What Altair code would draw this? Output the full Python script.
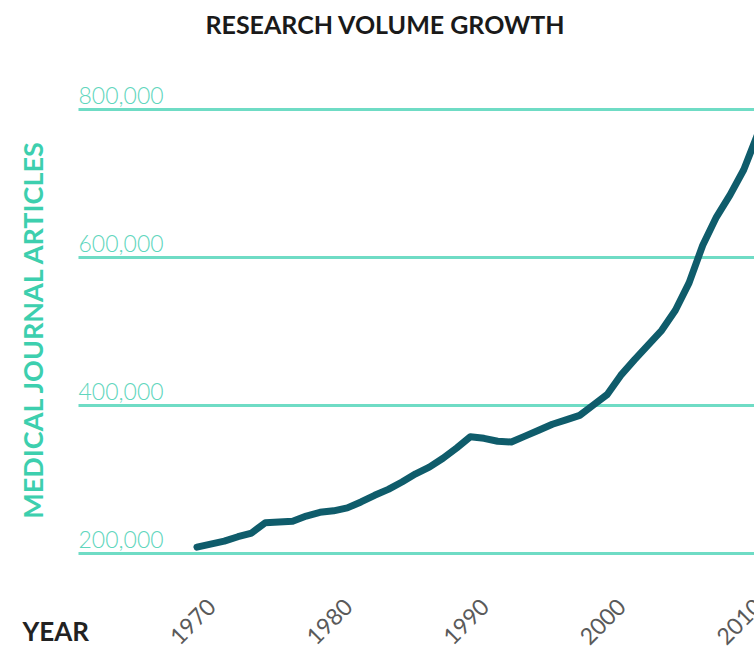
import altair as alt
import pandas as pd

years = list(range(1970, 2012))
articles = [208000, 212000, 216000, 222000, 227000, 241000, 242000, 243000, 250000, 255000,
            257000, 261000, 269000, 278000, 286000, 296000, 307000, 316000, 328000, 342000,
            357000, 355000, 351000, 350000, 358000, 366000, 374000, 380000, 386000, 400000,
            414000, 440000, 461000, 481000, 501000, 528000, 565000, 616000, 654000, 684000,
            718000, 765000]
y_ticks = [200000, 400000, 600000, 800000]
x_ticks = [1970, 1980, 1990, 2000, 2010]

df = pd.DataFrame({"year": years, "articles": articles})

FONT = "Lato"

line = alt.Chart(df).mark_line(
    color="#0f5c6b", strokeWidth=7, strokeCap="round", strokeJoin="round", clip=True
).encode(
    x=alt.X("year:Q",
            scale=alt.Scale(domain=[1961.3, 2010.75], nice=False, zero=False),
            axis=alt.Axis(values=x_ticks, format="d", grid=False, domain=False, ticks=False,
                          tickSize=0, labelAngle=-45, labelAlign="right", labelBaseline="middle",
                          labelPadding=38, labelOffset=15, labelFlush=False, labelOverlap=False,
                          labelBound=False, labelFont=FONT, labelFontSize=23,
                          labelColor="#5a5a5a",
                          title="YEAR", titleFont=FONT, titleFontSize=26, titleFontWeight="bold",
                          titleColor="#222222", titleAlign="left", titleBaseline="alphabetic",
                          titleAngle=0, titleX=-56, titleY=75)),
    y=alt.Y("articles:Q",
            scale=alt.Scale(domain=[183800, 812200], nice=False, zero=False),
            axis=alt.Axis(values=y_ticks, format=",.0f", grid=True, gridColor="#6fdcc5",
                          gridWidth=3, gridOpacity=1, domain=False, ticks=False, tickSize=0,
                          labelAlign="left", labelBaseline="alphabetic", labelPadding=0,
                          labelOffset=-6, labelFont=FONT, labelFontSize=23, labelFontWeight=300,
                          labelColor="#5fd6bd",
                          title="MEDICAL JOURNAL ARTICLES", titleFont=FONT, titleFontSize=27,
                          titleFontWeight="bold", titleColor="#3dcfae", titleAngle=270,
                          titleAlign="center", titleBaseline="middle", titleX=-44, titleY=230)),
)

chart = line.properties(
    width=676,
    height=465,
    autosize=alt.AutoSizeParams(type="none"),
    padding={"left": 78, "top": 100, "right": 0, "bottom": 83},
    background="white",
    title=alt.TitleParams(text="RESEARCH VOLUME GROWTH", font=FONT, fontSize=25,
                          fontWeight="bold", color="#1a1a1a", anchor="start", align="center",
                          frame="group", dx=307, offset=26, baseline="alphabetic"),
).configure_view(strokeWidth=0, stroke="transparent")

chart.save("out.html", embed_options={"renderer": "svg", "actions": False})
